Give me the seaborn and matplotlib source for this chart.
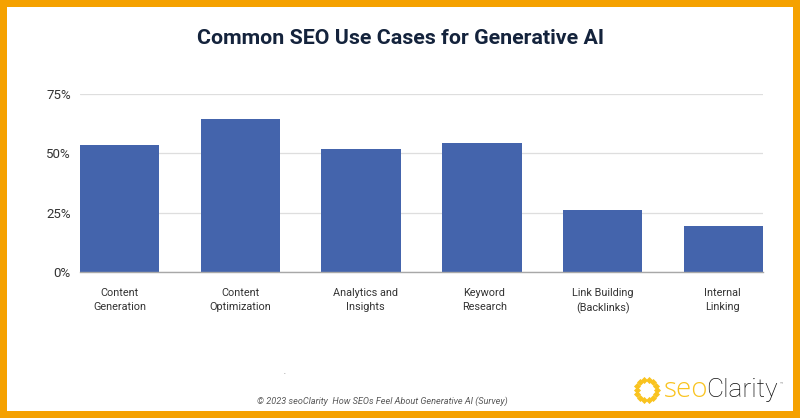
import numpy as np
import pandas as pd
import matplotlib
matplotlib.use("Agg")
import matplotlib.pyplot as plt
from matplotlib.patches import Rectangle
from matplotlib.transforms import ScaledTranslation
import seaborn as sns

# Daten
categories = ["Content\nGeneration", "Content\nOptimization", "Analytics and\nInsights",
              "Keyword\nResearch", "Link Building\n(Backlinks)", "Internal\nLinking"]
values = [53.7, 64.7, 52.0, 54.5, 25.9, 19.4]
y_ticks = [0, 25, 50, 75]
y_labels = ["0%", "25%", "50%", "75%"]

# Versatz der Beschriftungen in Pixeln (im Original nicht ganz mittig)
label_shift = [0, 0, 4, 2.5, 0, -1]

W, H = 800, 418

sns.set_theme(style="white")
plt.rcParams["font.family"] = ["Roboto", "DejaVu Sans"]

df = pd.DataFrame({"use_case": categories, "share": values})

fig = plt.figure(figsize=(W / 100, H / 100), dpi=100, facecolor="white")
ax = fig.add_axes([80 / W, 1 - 271.7 / H, 683 / W, 177.4 / H])

sns.barplot(data=df, x="use_case", y="share", color="#4464AC", saturation=1,
            width=0.658, linewidth=0, ax=ax, zorder=3)

ax.set_xlim(-0.329, 5.329)
ax.set_ylim(0, 75)
ax.set_yticks(y_ticks)
ax.set_yticklabels(y_labels, fontsize=9.5, color="#333333")
ax.tick_params(axis="y", length=0, pad=6.5)
ax.tick_params(axis="x", length=0, pad=11.5, labelsize=7.8, labelcolor="#333333")
for lab, dx in zip(ax.get_xticklabels(), label_shift):
    lab.set_linespacing(1.58)
    lab.set_transform(lab.get_transform() + ScaledTranslation(dx / 100, 0, fig.dpi_scale_trans))
ax.set_xlabel("")
ax.set_ylabel("")
ax.grid(axis="y", color="#DEDEDE", linewidth=0.9, zorder=0)
ax.set_axisbelow(True)
sns.despine(ax=ax, left=True, top=True, right=True)
ax.spines["bottom"].set_color("#A8A8A8")
ax.spines["bottom"].set_linewidth(1.0)
ax.spines["bottom"].set_zorder(4)

# Titel
fig.text(400.5 / W, 1 - 38.5 / H, "Common SEO Use Cases for Generative AI", ha="center", va="center",
         fontsize=15.4, fontweight="bold", color="#14233C")

# Quelle
fig.text(382 / W, 1 - 401.5 / H, "© 2023 seoClarity  How SEOs Feel About Generative AI (Survey)",
         ha="center", va="center", fontsize=6.55, style="italic", color="#595959")

# kleiner Punkt
fig.text(284 / W, 1 - 373.5 / H, ".", ha="center", va="baseline", fontsize=5, color="#555555")

# Logo
overlay = fig.add_axes([0, 0, 1, 1], facecolor="none")
overlay.set_xlim(0, W)
overlay.set_ylim(H, 0)
overlay.axis("off")
theta = np.linspace(0, 2 * np.pi, 14, endpoint=False)
overlay.scatter(646.5 + 10 * np.cos(theta), 390 + 10 * np.sin(theta), marker="D", s=13,
                color="#F9C31F", linewidths=0)
overlay.text(664, 397, "seo", fontsize=20, color="#F9C31F", family="Open Sans", fontweight="light",
             va="baseline", ha="left")
overlay.text(706, 397, "Clarity", fontsize=19, color="#111111", fontweight="light", va="baseline", ha="left")
overlay.text(780, 385, "™", fontsize=4, color="#888888", va="baseline", ha="left")

# Rahmen
border = "#F5A100"
overlay.add_patch(Rectangle((0, 0), W, 7, color=border, linewidth=0))
overlay.add_patch(Rectangle((0, 411), W, 7, color=border, linewidth=0))
overlay.add_patch(Rectangle((0, 0), 7, H, color=border, linewidth=0))
overlay.add_patch(Rectangle((793, 0), 7, H, color=border, linewidth=0))

fig.savefig("out.png", dpi=100)
